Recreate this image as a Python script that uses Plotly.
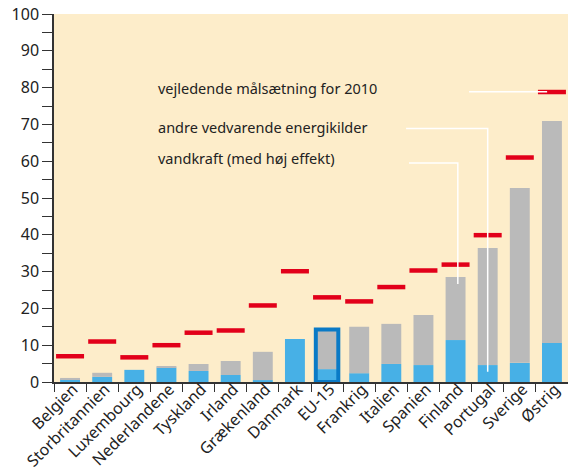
import plotly.graph_objects as go

countries = ["Belgien", "Storbritannien", "Luxembourg", "Nederlandene", "Tyskland",
             "Irland", "Grækenland", "Danmark", "EU-15", "Frankrig", "Italien",
             "Spanien", "Finland", "Portugal", "Sverige", "Østrig"]
vandkraft = [0.8, 1.4, 3.3, 3.9, 3.0, 1.9, 0.5, 11.7, 3.5, 2.4, 4.9, 4.6, 11.4, 4.6, 5.2, 10.6]
andre = [0.3, 1.1, 0.0, 0.3, 1.9, 3.8, 7.7, 0.0, 10.8, 12.6, 10.9, 13.6, 17.1, 31.8, 47.5, 60.3]
maal_2010 = [7.0, 11.0, 6.7, 10.0, 13.4, 14.0, 20.8, 30.1, 23.0, 21.9, 25.8, 30.3, 31.9, 39.9, 61.0, 78.8]
highlight = "EU-15"

total = [a + b for a, b in zip(vandkraft, andre)]
idx = list(range(len(countries)))
boundaries = [i - 0.5 for i in range(len(countries) + 1)]

BLUE = "#47b0e6"
GREY = "#bababa"
RED = "#e2001a"
FONT = "Noto Sans"

fig = go.Figure()
fig.add_trace(go.Bar(x=idx, y=vandkraft, marker=dict(color=BLUE, line=dict(width=0)),
                     width=0.62, name="vandkraft (med høj effekt)"))
fig.add_trace(go.Bar(x=idx, y=andre, base=vandkraft, marker=dict(color=GREY, line=dict(width=0)),
                     width=0.62, name="andre vedvarende energikilder"))
hi = countries.index(highlight)
fig.add_trace(go.Bar(x=[hi], y=[total[hi]], marker=dict(color="rgba(0,0,0,0)",
                     line=dict(color="#0a7ac6", width=4)), width=0.7, showlegend=False))
fig.add_trace(go.Scatter(x=idx, y=maal_2010, mode="markers",
                         marker=dict(symbol="line-ew", size=20, line=dict(color=RED, width=4.5)),
                         name="vejledende målsætning for 2010"))

W = dict(color="white", width=1.5)
shapes = [
    dict(type="line", xref="x", yref="y", x0=12.42, x1=14.85, y0=78.9, y1=78.9, line=W),
    dict(type="path", xref="x", yref="y", path="M 10.46,68.9 L 13.0,68.9 L 13.0,2.8", line=W),
    dict(type="path", xref="x", yref="y", path="M 10.55,59.5 L 12.07,59.5 L 12.07,26.6", line=W),
]

annos = []
for txt, yv in [("vejledende målsætning for 2010", 80.0),
                ("andre vedvarende energikilder", 69.2),
                ("vandkraft (med høj effekt)", 60.8)]:
    annos.append(dict(text=txt, x=2.69, y=yv, xref="x", yref="y", xanchor="left",
                      yanchor="middle", showarrow=False,
                      font=dict(family=FONT, size=14.5, color="#222")))

fig.update_layout(
    width=568, height=472,
    margin=dict(l=54, r=0, t=14, b=90),
    barmode="overlay",
    showlegend=False,
    plot_bgcolor="#fdedca",
    paper_bgcolor="white",
    shapes=shapes,
    annotations=annos,
    font=dict(family=FONT, color="#222"),
)
fig.update_xaxes(range=[-0.5, 15.5], tickmode="array", tickvals=idx, ticktext=countries,
                 tickangle=-45, ticks="", ticklen=0,
                 ticklabelstandoff=-10, ticklabelshift=3,
                 minor=dict(tickmode="array", tickvals=boundaries, ticks="outside",
                            ticklen=8, tickcolor="#333", tickwidth=1.2),
                 showline=True, linecolor="#333", linewidth=1.5, showgrid=False,
                 automargin=False,
                 tickfont=dict(size=16, family=FONT, color="#222"), zeroline=False)
fig.update_yaxes(range=[0, 100], dtick=10, ticks="outside", ticklen=10, tickcolor="#333",
                 showline=True, linecolor="#333", linewidth=1.5, showgrid=False,
                 automargin=False,
                 zeroline=False, tickfont=dict(size=16, family=FONT, color="#222"),
                 minor=dict(dtick=5, ticks="outside", ticklen=10, tickcolor="#333"))

fig.write_html("out.html", config={"displayModeBar": False},
               post_script="document.body.style.margin='0';document.body.style.overflow='hidden';")
